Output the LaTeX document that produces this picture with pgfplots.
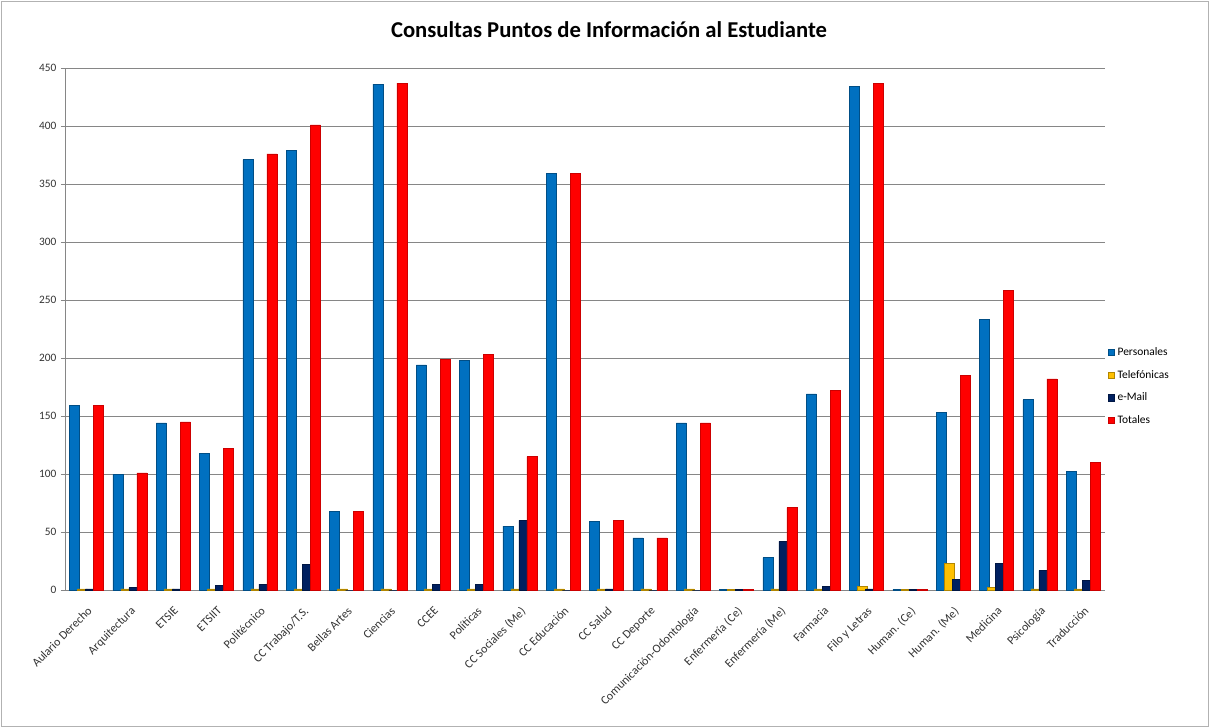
\documentclass[border=0pt]{standalone}
\usepackage{pgfplots}
\pgfplotsset{compat=1.18}
\usepackage{pgfplotstable}
\usepackage{fontspec}
\setmainfont{Carlito}
\definecolor{cP}{RGB}{0,112,192}
\definecolor{cT}{RGB}{255,192,0}
\definecolor{cE}{RGB}{0,32,96}
\definecolor{cX}{RGB}{255,0,0}
\definecolor{gridc}{RGB}{134,134,134}
\pgfplotstableread{
x P T E X
0 159 1 1 159
1 100 1 2 101
2 144 1 1 145
3 118 1 4 122
4 371 1 5 376
5 379 1 22 401
6 68 1 0 68
7 436 1 0 437
8 194 1 5 199
9 198 1 5 203
10 55 1 60 115
11 359 1 0 359
12 59 1 1 60
13 45 1 0 45
14 144 1 0 144
15 0.6 0.6 0.6 0.6
16 28 1 42 71
17 169 1 3 172
18 434 3 1 437
19 0.6 0.6 0.6 0.6
20 153 23 9 185
21 233 2 23 258
22 164 1 17 182
23 102 1 8 110
}\datatable
\begin{document}
\begin{tikzpicture}
\path[use as bounding box] (-48.75pt,-103.5pt) rectangle (858.75pt,442.5pt);
\draw[gray!60] (-47.5pt,-102.5pt) rectangle (857.5pt,441.5pt);
\begin{axis}[
  at={(0,0)}, anchor=south west,
  scale only axis, width=780pt, height=391.5pt,
  ybar=-1.6pt, bar width=7.6pt,
  xmin=-0.5, xmax=23.5, ymin=0, ymax=450,
  ytick={0,50,...,450},
  ymajorgrids, grid style={gridc, line width=0.6pt},
  axis x line*=bottom, axis y line*=left,
  axis line style={gridc},
  xtick=data,
  xticklabels={Aulario Derecho,Arquitectura,ETSIE,ETSIIT,Politécnico,CC Trabajo/T.S.,Bellas Artes,Ciencias,CCEE,Políticas,CC Sociales (Me),CC Educación,CC Salud,CC Deporte,Comunicación-Odontología,Enfermería (Ce),Enfermería (Me),Farmacia,Filo y Letras,Human. (Ce),Human. (Me),Medicina,Psicología,Traducción},
  x tick label style={xshift=0pt, yshift=-8pt, rotate=45, anchor=north east, font=\fontsize{9}{10}\selectfont, text=black!80, inner sep=0.5pt},
  y tick label style={font=\fontsize{8.5}{10}\selectfont, text=black!80},
  /pgf/number format/assume math mode=true,
  major x tick style={draw=none},
  major y tick style={gridc},
  tick align=outside,
  major tick length=3pt,
  legend style={at={(0.999,0.39)}, anchor=west, draw=none, fill=none, font=\fontsize{8.6}{10}\selectfont, row sep=5.5pt, cells={anchor=west}},
  legend image code/.code={\fill[#1] (0pt,-2.3pt) rectangle (4.6pt,2.3pt);},
]
\addplot[fill=cP, draw=cP!70!black] table[x=x,y=P]{\datatable};
\addplot[fill=cT, draw=cT!70!black] table[x=x,y=T]{\datatable};
\addplot[fill=cE, draw=cE!70!black] table[x=x,y=E]{\datatable};
\addplot[fill=cX, draw=cX!80!black] table[x=x,y=X]{\datatable};
\legend{Personales,Telefónicas,e-Mail,Totales}
\end{axis}
\node[font=\bfseries\fontsize{17}{19}\selectfont] at (408pt,420pt) {Consultas Puntos de Información al Estudiante};
\end{tikzpicture}
\end{document}
